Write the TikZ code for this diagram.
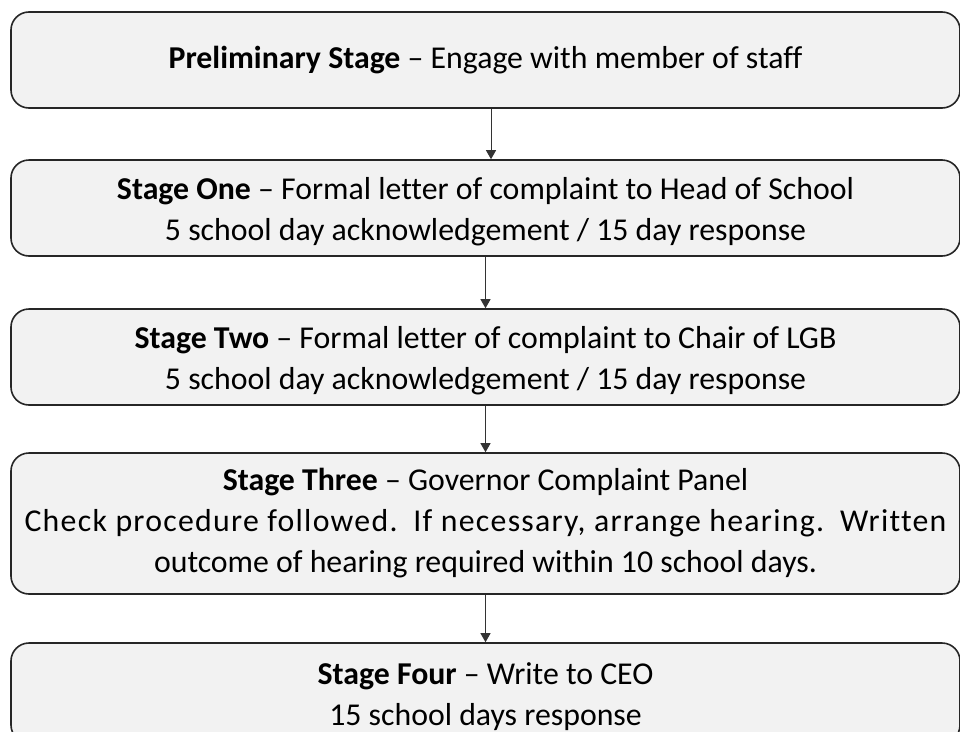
\documentclass[tikz,border=0pt]{standalone}
\usepackage{fontspec}
\setmainfont{Carlito}[Ligatures=NoCommon]
\usepackage{tikz}
\usetikzlibrary{arrows.meta, positioning}
\newcommand{\topgap}{\rule{0pt}{30pt}}

\begin{document}
\begin{tikzpicture}[x=1pt, y=-1pt,
        stagebox/.style={rectangle, rounded corners=18pt, draw=black!85, line width=1.6pt,
                         fill=gray!10, minimum width=949pt, align=center,
                         font=\fontsize{31.8}{41}\selectfont, inner sep=0pt},
        arr/.style={-{Triangle[length=9pt, width=10pt]}, draw=black!80, line width=1pt}
    ]
    \clip (0,0) rectangle (960,731);
    \useasboundingbox (0,0) rectangle (960,731);

    \node[stagebox, minimum height=96pt]  (S0) at (485.5, 60)    {\textbf{Preliminary Stage} -- Engage with member of staff};
    \node[stagebox, minimum height=96pt]  (S1) at (485.5, 208)   {\topgap\textbf{Stage One} -- Formal letter of complaint to Head of School\\5 school day acknowledgement / 15 day response};
    \node[stagebox, minimum height=96pt]  (S2) at (485.5, 357)   {\topgap\textbf{Stage Two} -- Formal letter of complaint to Chair of LGB\\5 school day acknowledgement / 15 day response};
    \node[stagebox, minimum height=141pt] (S3) at (485.5, 523.5) {\textbf{Stage Three} -- Governor Complaint Panel\\{\addfontfeature{LetterSpace=4}Check procedure followed.\hspace{0.5em}If necessary, arrange hearing.\hspace{0.5em}Written}\\outcome of hearing required within 10 school days.};
    \node[stagebox, minimum height=100pt] (S4) at (485.5, 693)   {\topgap\textbf{Stage Four} -- Write to CEO\\15 school days response};

    \draw[arr] ([xshift=5.5pt]S0.south) -- ([xshift=5.5pt]S1.north);
    \draw[arr] (S1) -- (S2);
    \draw[arr] (S2) -- (S3);
    \draw[arr] (S3) -- (S4);
\end{tikzpicture}
\end{document}
